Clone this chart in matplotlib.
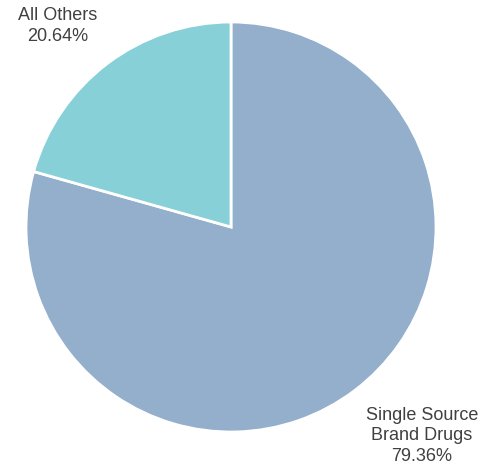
import matplotlib
matplotlib.use("Agg")
import matplotlib.pyplot as plt

labels = ["Single Source\nBrand Drugs", "All Others"]
shares = [79.36, 20.64]
colors = ["#93AFCC", "#87D0D7"]

plt.rcParams["font.family"] = ["Liberation Sans", "DejaVu Sans"]

fig = plt.figure(figsize=(4.85, 4.70), dpi=100)
ax = fig.add_axes([0, 0, 1, 1])

ax.pie(
    shares,
    colors=colors,
    startangle=90,
    counterclock=False,
    center=(231, 243),
    radius=205,
    frame=True,
    wedgeprops=dict(edgecolor="white", linewidth=2),
)
ax.set_xlim(0, 485)
ax.set_ylim(0, 470)
ax.set_aspect("equal")
ax.axis("off")

text_pos = [(422, 34), (58, 444)]
for lab, val, (x, y) in zip(labels, shares, text_pos):
    ax.text(x, y, f"{lab}\n{val:.2f}%", ha="center", va="center",
            fontsize=13.0, color="#404040", linespacing=1.3)

fig.savefig("out.png", dpi=100)
